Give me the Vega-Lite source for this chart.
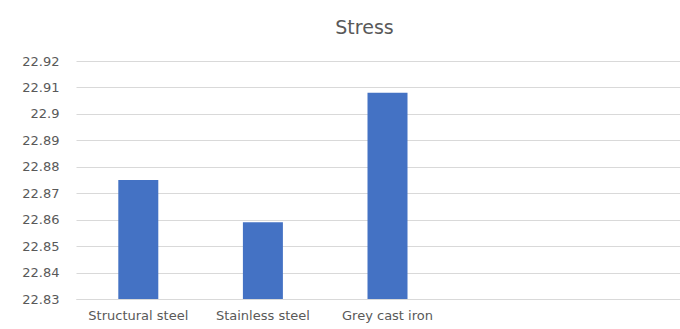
{
  "$schema": "https://vega.github.io/schema/vega-lite/v6.json",
  "autosize": {"type": "none"},
  "padding": {"left": 76, "top": 61, "right": 0, "bottom": 30},
  "width": 623,
  "height": 238,
  "background": "white",
  "title": {
    "text": "Stress",
    "font": "DejaVu Sans",
    "fontSize": 19,
    "fontWeight": "normal",
    "color": "#595959",
    "anchor": "middle",
    "dx": -23,
    "offset": 17
  },
  "data": {
    "values": [
      {"material": "Structural steel", "stress": 22.875},
      {"material": "Stainless steel", "stress": 22.859},
      {"material": "Grey cast iron", "stress": 22.908}
    ]
  },
  "mark": {"type": "bar", "color": "#4472c4", "size": 40},
  "encoding": {
    "x": {
      "field": "material",
      "type": "nominal",
      "sort": null,
      "scale": {
        "domain": ["Structural steel", "Stainless steel", "Grey cast iron", " ", "  "],
        "paddingInner": 0,
        "paddingOuter": 0
      },
      "axis": {
        "title": null,
        "labelAngle": 0,
        "labelFont": "DejaVu Sans",
        "labelFontSize": 13,
        "labelColor": "#595959",
        "labelPadding": 10,
        "ticks": false,
        "domainColor": "#d9d9d9",
        "grid": false
      }
    },
    "y": {
      "field": "stress",
      "type": "quantitative",
      "scale": {"domain": [22.83, 22.92], "zero": false, "nice": false},
      "axis": {
        "title": null,
        "values": [22.83, 22.84, 22.85, 22.86, 22.87, 22.88, 22.89, 22.9, 22.91, 22.92],
        "format": ".2~f",
        "labelFont": "DejaVu Sans",
        "labelFontSize": 13,
        "labelColor": "#595959",
        "labelPadding": 17,
        "ticks": false,
        "domain": false,
        "gridColor": "#d9d9d9",
        "gridWidth": 1
      }
    },
    "y2": {"datum": 22.83}
  },
  "config": {"view": {"stroke": null}}
}
